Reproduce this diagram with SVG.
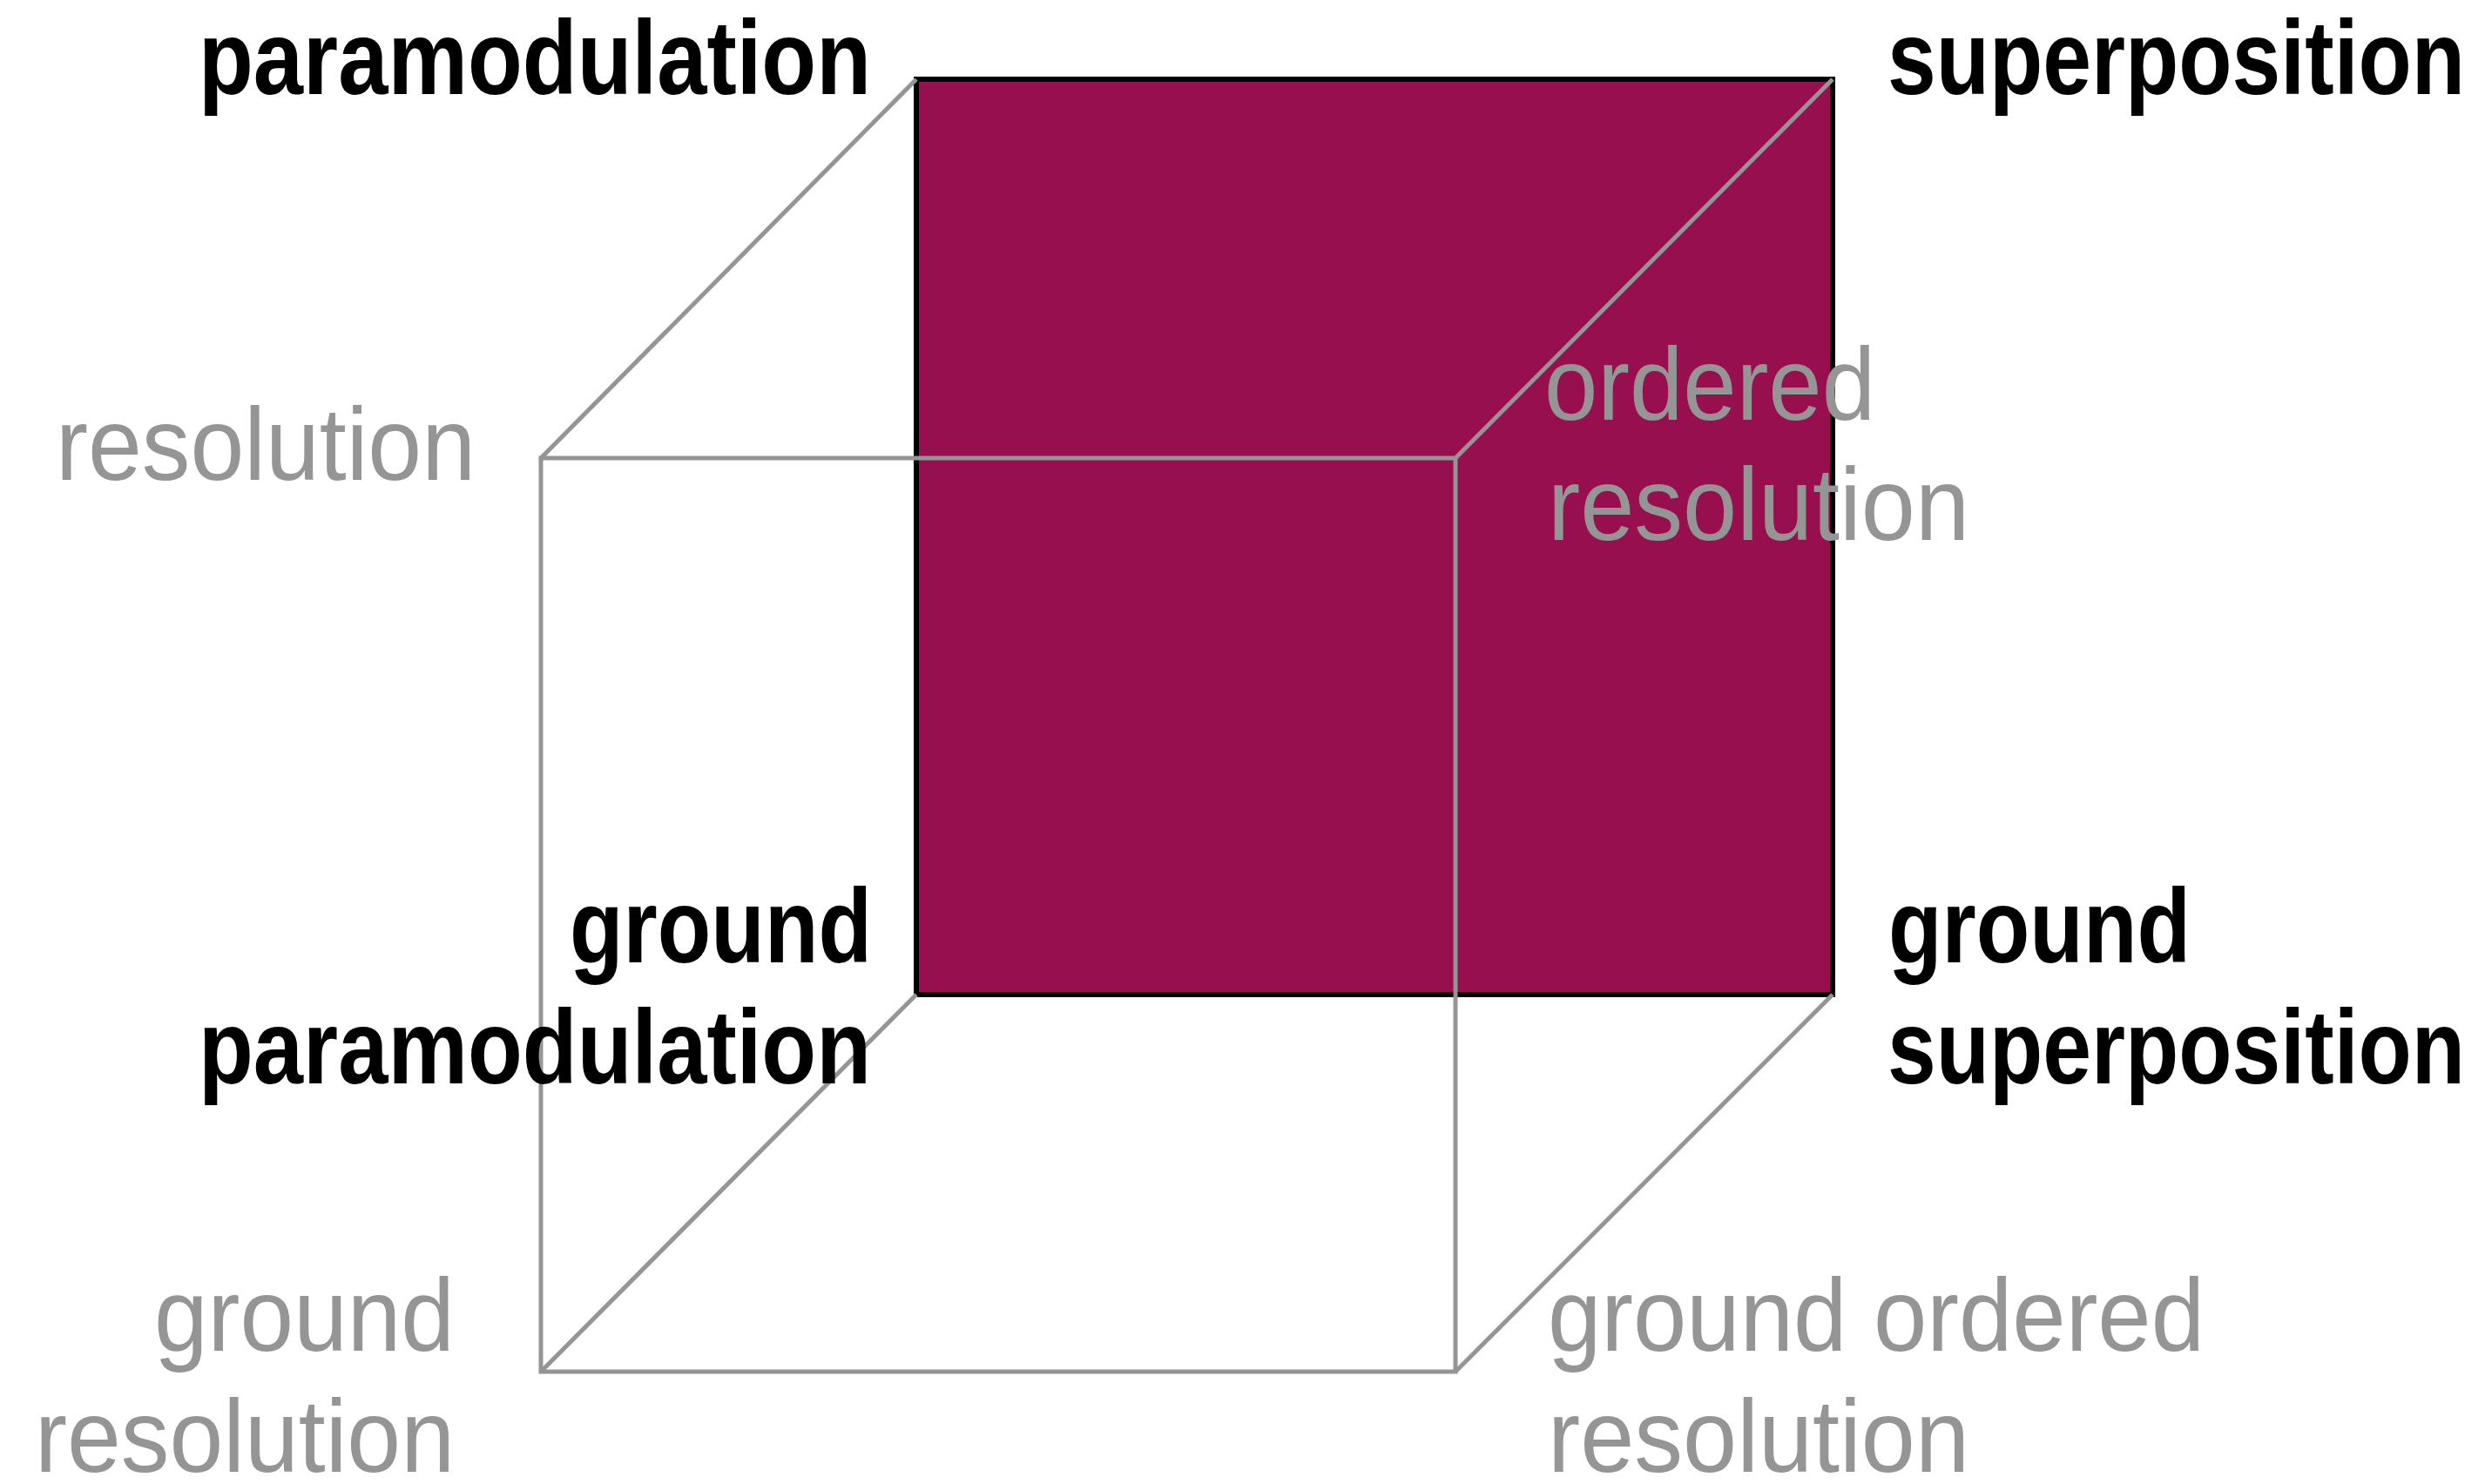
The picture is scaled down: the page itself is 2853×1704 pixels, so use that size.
<svg xmlns="http://www.w3.org/2000/svg" width="2853" height="1704" viewBox="0 0 2853 1704">
<style>
.bold{font-family:"Liberation Sans",Arial,sans-serif;font-weight:bold;font-size:120px;fill:#000000}
.light{font-family:"Liberation Sans",Arial,sans-serif;font-weight:normal;font-size:119px;fill:#959595}
.edge{fill:none;stroke:#959595;stroke-width:5;stroke-linejoin:miter}
</style>
<rect width="2853" height="1704" fill="#ffffff"/>
<g id="back-face">
<rect x="1052" y="91" width="1052" height="1051" fill="#970f4f" stroke="#000000" stroke-width="6"/>
</g>
<g id="connectors">
<line class="edge" x1="1052" y1="91" x2="621" y2="526"/>
<line class="edge" x1="2104" y1="91" x2="1671" y2="526"/>
<line class="edge" x1="1052" y1="1142" x2="621" y2="1575"/>
<line class="edge" x1="2104" y1="1142" x2="1671" y2="1575"/>
<rect class="edge" x="621" y="526" width="1050" height="1049"/>
</g>
<g id="node-paramodulation"><text class="bold" x="228" y="108" textLength="772" lengthAdjust="spacingAndGlyphs">paramodulation</text></g>
<g id="node-superposition"><text class="bold" x="2167" y="108" textLength="663" lengthAdjust="spacingAndGlyphs">superposition</text></g>
<g id="node-resolution"><text class="light" x="64" y="551" textLength="482" lengthAdjust="spacingAndGlyphs">resolution</text></g>
<g id="node-ordered-resolution">
<text class="light" x="1773" y="482" textLength="380" lengthAdjust="spacingAndGlyphs">ordered</text>
<text class="light" x="1777" y="620" textLength="484" lengthAdjust="spacingAndGlyphs">resolution</text>
</g>
<g id="node-ground-paramodulation">
<text class="bold" x="654" y="1105" textLength="347" lengthAdjust="spacingAndGlyphs">ground</text>
<text class="bold" x="228" y="1244" textLength="772" lengthAdjust="spacingAndGlyphs">paramodulation</text>
</g>
<g id="node-ground-superposition">
<text class="bold" x="2168" y="1105" textLength="347" lengthAdjust="spacingAndGlyphs">ground</text>
<text class="bold" x="2167" y="1244" textLength="663" lengthAdjust="spacingAndGlyphs">superposition</text>
</g>
<g id="node-ground-resolution">
<text class="light" x="177" y="1551" textLength="345" lengthAdjust="spacingAndGlyphs">ground</text>
<text class="light" x="40" y="1690" textLength="482" lengthAdjust="spacingAndGlyphs">resolution</text>
</g>
<g id="node-ground-ordered-resolution">
<text class="light" x="1777" y="1551" textLength="754" lengthAdjust="spacingAndGlyphs">ground ordered</text>
<text class="light" x="1777" y="1690" textLength="484" lengthAdjust="spacingAndGlyphs">resolution</text>
</g>
</svg>
